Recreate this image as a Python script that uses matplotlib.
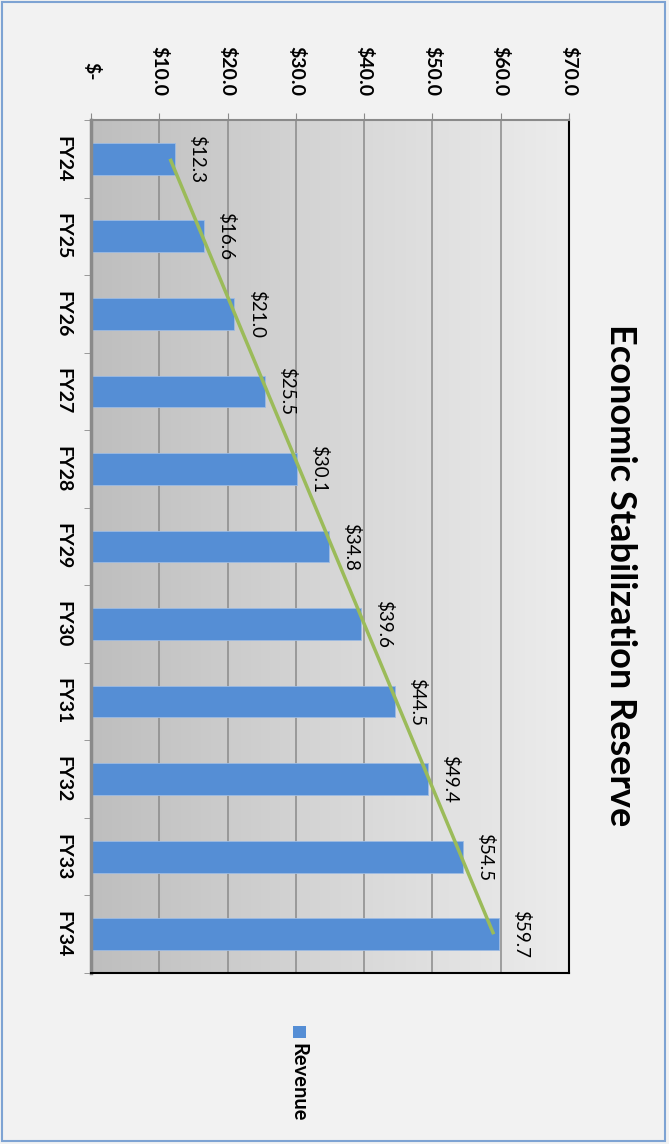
import numpy as np
import matplotlib
matplotlib.use("Agg")
import matplotlib.pyplot as plt
from matplotlib.patches import Rectangle
from matplotlib.colors import LinearSegmentedColormap

categories = ["FY24", "FY25", "FY26", "FY27", "FY28", "FY29", "FY30", "FY31", "FY32", "FY33", "FY34"]
revenue = [12.3, 16.6, 21.0, 25.5, 30.1, 34.8, 39.6, 44.5, 49.4, 54.5, 59.7]
value_ticks = [0, 10, 20, 30, 40, 50, 60, 70]
value_tick_labels = ["$-", "$10.0", "$20.0", "$30.0", "$40.0", "$50.0", "$60.0", "$70.0"]
title = "Economic Stabilization Reserve"
series_name = "Revenue"

plt.rcParams['font.family'] = ['Lato', 'DejaVu Sans']

W, H = 669, 1144
fig = plt.figure(figsize=(W / 100, H / 100), dpi=100)
fig.patch.set_facecolor('#f2f2f2')

def fx(px):
    return px / W

def fy(py):
    return 1 - py / H

# outer border
fig.add_artist(Rectangle((fx(2), fy(1141)), fx(663), 1139 / H, transform=fig.transFigure,
                         fill=False, edgecolor='#7ea3d3', linewidth=1.5))

left, right, top, bottom = 91, 569, 120, 973
ax = fig.add_axes([fx(left), fy(bottom), fx(right - left), (bottom - top) / H])

n = len(categories)
y = np.arange(n)
ax.set_xlim(0, 70)
ax.set_ylim(n - 0.5, -0.5)

# gradient background
cmap = LinearSegmentedColormap.from_list('g', ['#bebebe', '#d6d6d6', '#ececec'])
grad = np.linspace(0, 1, 256).reshape(1, -1)
ax.imshow(grad, extent=[0, 70, n - 0.5, -0.5], aspect='auto', cmap=cmap, zorder=0)

for v in value_ticks[1:-1]:
    ax.axvline(v, color='#8a8a8a', linewidth=1.1, zorder=1)

ax.barh(y, revenue, height=0.41, color='#558ed5', edgecolor='#9dbbe3', linewidth=0.6, zorder=2)

# linear trend line
coef = np.polyfit(y, revenue, 1)
trend = np.polyval(coef, y)
ax.plot(trend, y, color='#9bbb59', linewidth=2.5, zorder=3, solid_capstyle='butt')

for yi, v in zip(y, revenue):
    ax.annotate(f"${v:.1f}", xy=(v, yi), xytext=(16, 0), textcoords='offset points',
                rotation=-90, ha='center', va='center', fontsize=13.5, color='black', zorder=4)

ax.xaxis.tick_top()
ax.set_xticks(value_ticks)
ax.set_xticklabels(value_tick_labels, rotation=-90, fontsize=14, fontweight='bold', va='center', ha='center')
ax.tick_params(axis='x', which='major', direction='out', length=5, color='#8a8a8a', pad=30)

ax.set_yticks(y)
ax.set_yticklabels(categories, rotation=-90, fontsize=14, fontweight='bold', va='center', ha='center')
ax.set_yticks(np.arange(n + 1) - 0.5, minor=True)
ax.tick_params(axis='y', which='major', length=0, pad=20)
ax.tick_params(axis='y', which='minor', direction='out', length=5, color='#8a8a8a')

ax.spines['top'].set_color('#8a8a8a')
ax.spines['top'].set_linewidth(1.5)
ax.spines['left'].set_color('#8a8a8a')
ax.spines['left'].set_linewidth(2.5)
ax.spines['right'].set_color('black')
ax.spines['right'].set_linewidth(1.5)
ax.spines['bottom'].set_color('black')
ax.spines['bottom'].set_linewidth(1.5)

fig.text(fx(621), fy(575), title, rotation=-90, ha='center', va='center',
         fontsize=26, fontweight='bold', color='black')

# legend
fig.add_artist(Rectangle((fx(293), fy(1038)), fx(13), 12 / H, transform=fig.transFigure,
                         facecolor='#558ed5', edgecolor='none'))
fig.text(fx(298), fy(1043), series_name, rotation=-90, ha='center', va='top',
         fontsize=14.5, fontweight='bold', color='black')

fig.savefig('out.png', dpi=100, facecolor=fig.get_facecolor())
